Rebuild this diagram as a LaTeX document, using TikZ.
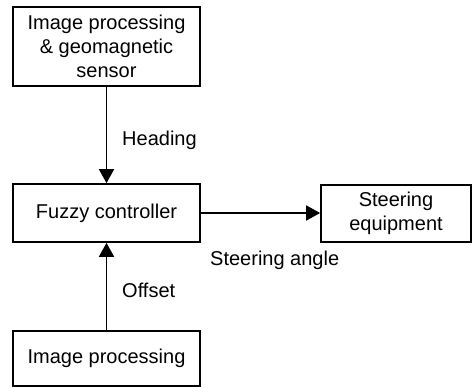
\documentclass[tikz,border=0pt]{standalone}
\usepackage{fontspec}
\setmainfont{Liberation Sans}
\usetikzlibrary{arrows.meta}
\begin{document}
\begin{tikzpicture}[x=1pt,y=-1pt,
  block/.style={draw, line width=1.7pt, inner sep=0pt, align=center,
    font=\fontsize{20}{24}\selectfont},
  lbl/.style={font=\fontsize{20}{24}\selectfont, inner sep=0pt},
  flow/.style={line width=1.7pt, -{Triangle[length=14pt,width=15pt]}}]
\useasboundingbox (0,0) rectangle (474,387);
\node[block, minimum width=187pt, minimum height=79pt] (sens) at (106.5,46.5)
  {Image processing\\\& geomagnetic\\sensor};
\node[block, minimum width=187pt, minimum height=58pt] (fuzzy) at (106.5,213)
  {Fuzzy controller};
\node[block, minimum width=150pt, minimum height=57pt] (steer) at (396,213.5)
  {Steering\\equipment};
\node[block, minimum width=187pt, minimum height=55pt] (img) at (106.5,358.5)
  {Image processing};
\draw[flow] (sens) -- (fuzzy);
\draw[flow] (img) -- (fuzzy);
\draw[flow] (fuzzy.east) -- (steer.west |- fuzzy.east);
\node[lbl, anchor=west] (hd) at (122,140) {Heading};
\node[lbl, anchor=west] (os) at (122,290) {Offset};
\node[lbl, anchor=west] (sa) at (210,260) {Steering angle};
\end{tikzpicture}
\end{document}
